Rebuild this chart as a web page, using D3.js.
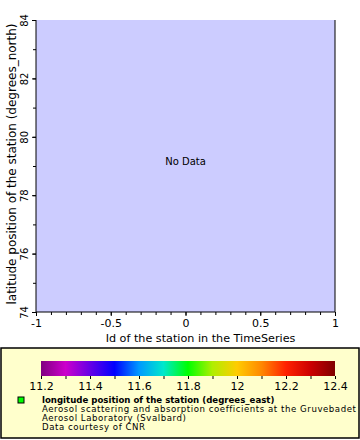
<!DOCTYPE html>
<html><head><meta charset="utf-8">
<script src="https://cdn.jsdelivr.net/npm/d3@7"></script>
<style>body{margin:0;background:#fff}svg{display:block;font-family:"DejaVu Sans",sans-serif}</style>
</head><body><svg id="c" width="360" height="440"></svg>
<script>
const xDomain = [-1, 1];
const yDomain = [74, 84];
const xTicks = [-1, -0.5, 0, 0.5, 1];
const yTicks = [74, 76, 78, 80, 82, 84];
const cDomain = [11.2, 12.4];
const cTicks = [11.2, 11.4, 11.6, 11.8, 12, 12.2, 12.4];
const cStopValues = [11.2, 11.3, 11.5, 11.6, 11.7, 11.8, 11.9, 12.0, 12.1, 12.2, 12.3, 12.4];
const cStopColors = ["#800080","#cc00cc","#0000ff","#0099ff","#00e8cc","#00ff00","#b0ee00","#ffcc00","#ff8800","#ff2200","#cc0000","#800000"];
const xTitle = "Id of the station in the TimeSeries";
const yTitle = "latitude position of the station (degrees_north)";
const legendLines = ["longitude position of the station (degrees_east)",
  "Aerosol scattering and absorption coefficients at the Gruvebadet",
  "Aerosol Laboratory (Svalbard)",
  "Data courtesy of CNR"];

const svg = d3.select("#c");
const L = 36, R = 335, T = 20, B = 312;
const x = d3.scaleLinear().domain(xDomain).range([L, R]);
const y = d3.scaleLinear().domain(yDomain).range([B, T]);

svg.append("rect").attr("x", L).attr("y", T).attr("width", R - L).attr("height", B - T).attr("fill", "#ccccff");
svg.append("text").attr("x", x(0)).attr("y", y(79) - 1.5).attr("text-anchor", "middle").attr("font-size", 10).text("No Data");

function styleText(g) { g.selectAll("text").attr("font-family", "DejaVu Sans").attr("fill", "#000"); }

// x axis
svg.append("g").attr("transform", `translate(0,${B})`)
  .call(d3.axisBottom(x).tickValues(d3.range(-10, 10.5, 1).map(v => v / 10)).tickSize(3).tickFormat(""))
  .call(g => g.select(".domain").remove());
svg.append("g").attr("transform", `translate(0,${B})`)
  .call(d3.axisBottom(x).tickValues(xTicks).tickSize(4).tickPadding(3).tickFormat(d => String(d)))
  .call(g => g.select(".domain").remove())
  .call(styleText).call(g => g.selectAll("text").attr("font-size", 11));
// y axis
svg.append("g").attr("transform", `translate(${L},0)`)
  .call(d3.axisLeft(y).tickValues(d3.range(74, 84.5, 1)).tickSize(3).tickFormat(""))
  .call(g => g.select(".domain").remove());
svg.append("g").attr("transform", `translate(${L},0)`)
  .call(d3.axisLeft(y).tickValues(yTicks).tickSize(4).tickFormat(d => String(d)))
  .call(g => g.select(".domain").remove())
  .call(styleText)
  .call(g => g.selectAll("text").attr("font-size", 10)
     .attr("x", 0).attr("dy", 0).attr("text-anchor", "middle").attr("transform", "translate(-8,0) rotate(-90)"));
svg.append("path").attr("d", `M${L},${T}V${B}H${R}V${T}`).attr("fill", "none").attr("stroke", "#000");

svg.append("text").attr("x", (L + R) / 2 + 15).attr("y", 342).attr("text-anchor", "middle").attr("font-size", 11.2).text(xTitle);
svg.append("text").attr("transform", `translate(16,${(T + B) / 2 - 2}) rotate(-90)`).attr("text-anchor", "middle").attr("font-size", 12).text(yTitle);

// legend box
svg.append("rect").attr("x", 1).attr("y", 348).attr("width", 358).attr("height", 90).attr("fill", "#ffffcc").attr("stroke", "#000").attr("stroke-width", 1.5);
const c = d3.scaleLinear().domain(cDomain).range([41, 335]);
const grad = svg.append("defs").append("linearGradient").attr("id", "cb");
cStopValues.forEach((v, i) => grad.append("stop").attr("offset", (v - cDomain[0]) / (cDomain[1] - cDomain[0])).attr("stop-color", cStopColors[i]));
svg.append("rect").attr("x", c(cDomain[0])).attr("y", 361).attr("width", c(cDomain[1]) - c(cDomain[0])).attr("height", 15).attr("fill", "url(#cb)");
svg.append("g").attr("transform", "translate(0,376)")
  .call(d3.axisBottom(c).tickValues(d3.range(112, 124.5, 1).map(v => v / 10)).tickSize(3).tickFormat(""))
  .call(g => g.select(".domain").remove());
svg.append("g").attr("transform", "translate(0,376)")
  .call(d3.axisBottom(c).tickValues(cTicks).tickSize(3).tickPadding(3).tickFormat(d => String(d)))
  .call(g => g.select(".domain").remove())
  .call(styleText).call(g => g.selectAll("text").attr("font-size", 11));

svg.append("rect").attr("x", 18).attr("y", 397).attr("width", 6).attr("height", 6).attr("fill", "#00ff00").attr("stroke", "#000");
legendLines.forEach((t, i) => svg.append("text").attr("x", 42).attr("y", 402.5 + i * 9)
  .attr("font-size", i === 0 ? 8.6 : 8.6)
  .attr("letter-spacing", i === 0 ? 0 : 0.55)
  .attr("font-weight", i === 0 ? "bold" : "normal").text(t));
</script></body></html>
